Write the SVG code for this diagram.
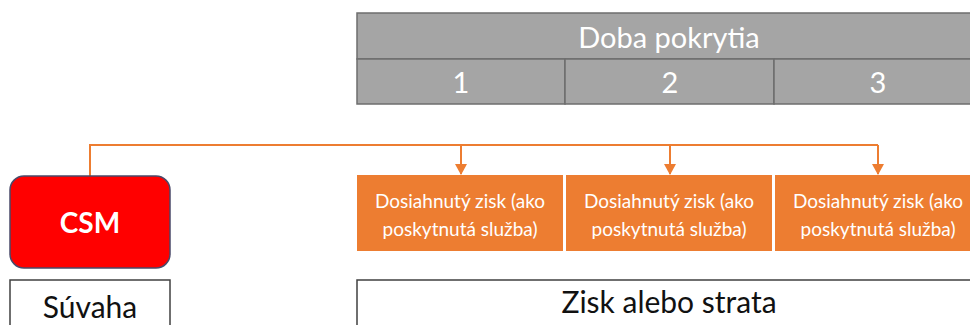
<svg xmlns="http://www.w3.org/2000/svg" width="970" height="325" viewBox="0 0 970 325">
<defs>
<style>
.t{font-family:Lato,"Open Sans",sans-serif}
.hdr{fill:#A5A5A5;stroke:#6E6E6E;stroke-width:1.5}
.ht{fill:#fff;font-size:29px;text-anchor:middle}
.ob{fill:#ED7D31}
.ot{fill:#fff;font-size:19px;text-anchor:middle}
.wb{fill:#fff;stroke:#404040;stroke-width:1.5}
.bt{fill:#111;font-size:30px;text-anchor:middle}
.cn{fill:none;stroke:#ED7D31;stroke-width:2}
</style>
<marker id="ah" markerWidth="12" markerHeight="12" viewBox="0 0 12 12" refX="10" refY="6" orient="auto" markerUnits="userSpaceOnUse">
<path d="M0,0 L11,6 L0,12 Z" fill="#ED7D31"/>
</marker>
</defs>
<g id="header">
<rect class="hdr" x="357" y="13" width="615" height="46"/>
<rect class="hdr" x="357" y="59" width="208" height="45"/>
<rect class="hdr" x="565" y="59" width="209" height="45"/>
<rect class="hdr" x="774" y="59" width="198" height="45"/>
<text class="t ht" x="669" y="48">Doba pokrytia</text>
<text class="t ht" x="461" y="93">1</text>
<text class="t ht" x="670" y="93">2</text>
<text class="t ht" x="878" y="93">3</text>
</g>
<g id="connectors">
<polyline class="cn" points="90,176 90,145 878,145"/>
<line class="cn" x1="461" y1="145" x2="461" y2="174" marker-end="url(#ah)"/>
<line class="cn" x1="670" y1="145" x2="670" y2="174" marker-end="url(#ah)"/>
<line class="cn" x1="878" y1="145" x2="878" y2="174" marker-end="url(#ah)"/>
</g>
<g id="csm">
<rect x="10" y="176" width="160" height="92" rx="14" fill="#FF0000" stroke="#4A4A6A" stroke-width="1.5"/>
<text class="t" x="90" y="233" fill="#fff" font-size="28" font-weight="bold" text-anchor="middle">CSM</text>
</g>
<g id="zisk1">
<rect class="ob" x="357" y="175" width="206" height="76"/>
<text class="t ot" x="460" y="208">Dosiahnutý zisk (ako</text>
<text class="t ot" x="460" y="236">poskytnutá služba)</text>
</g>
<g id="zisk2">
<rect class="ob" x="566" y="175" width="206" height="76"/>
<text class="t ot" x="669" y="208">Dosiahnutý zisk (ako</text>
<text class="t ot" x="669" y="236">poskytnutá služba)</text>
</g>
<g id="zisk3">
<rect class="ob" x="775" y="175" width="200" height="76"/>
<text class="t ot" x="878" y="208">Dosiahnutý zisk (ako</text>
<text class="t ot" x="878" y="236">poskytnutá služba)</text>
</g>
<g id="suvaha">
<rect class="wb" x="10" y="280" width="160" height="50"/>
<text class="t bt" x="90" y="318">Súvaha</text>
</g>
<g id="zisk-strata">
<rect class="wb" x="357" y="280" width="620" height="50"/>
<text class="t bt" x="669" y="313">Zisk alebo strata</text>
</g>
</svg>
